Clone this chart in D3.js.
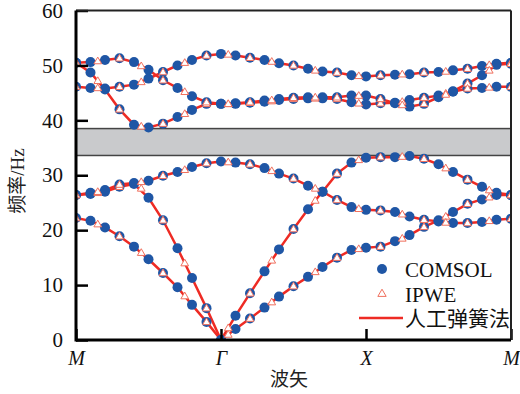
<!DOCTYPE html>
<html>
<head>
<meta charset="utf-8">
<script src="https://cdn.jsdelivr.net/npm/d3@7"></script>
<style>
  body { margin: 0; background: #fff; }
  text { font-family: "Liberation Serif", "Noto Sans CJK SC", serif; }
</style>
</head>
<body>
<div id="chart"></div>
<script>
// wave vector path M - Γ - X - M
var pathLabels = ["M", "Γ", "X", "M"];
var pathTicks = [0, 1, 2, 3];
var yTicks = [0, 10, 20, 30, 40, 50, 60];
var bandGap = [33.6, 38.5];

// sample positions along the path
var comsolK = d3.range(31).map(i => i / 10);
var ipweK = d3.range(21).map(i => i * 0.15);

// COMSOL frequencies (Hz), one array per band
var comsol1 = [22.2, 21.7, 20.5, 18.9, 17.0, 14.7, 12.2, 9.6, 6.4, 3.3, 0,
    2.0, 3.9, 5.9, 7.9, 9.8, 11.5, 13.3, 15.0, 16.4, 16.8,
    17.0, 18.0, 19.1, 20.6, 21.8, 23.3, 24.8, 25.6, 26.4, 26.4];
var comsol2 = [26.4, 26.6, 27.0, 27.9, 28.4, 25.9, 21.8, 16.7, 11.3, 5.8, 0,
    4.4, 8.5, 12.5, 16.5, 20.2, 23.8, 27.0, 30.3, 32.3, 33.2,
    33.3, 33.3, 33.5, 33.0, 32.0, 30.6, 29.2, 27.9, 26.8, 26.4];
var comsol3 = [26.4, 26.8, 27.3, 28.3, 28.6, 29.0, 29.9, 30.6, 31.5, 32.2, 32.5,
    32.3, 32.0, 31.3, 30.3, 29.4, 28.1, 27.0, 25.5, 24.2, 23.7,
    23.6, 23.3, 22.5, 21.9, 21.6, 21.3, 21.3, 21.5, 21.9, 22.1];
var comsol4 = [46.1, 45.9, 45.8, 46.1, 46.5, 47.6, 48.8, 50.0, 51.0, 51.8, 52.1,
    51.8, 51.4, 51.0, 50.4, 50.0, 49.4, 48.9, 48.7, 48.2, 48.0,
    48.2, 48.3, 48.4, 48.7, 48.8, 49.1, 49.4, 49.9, 50.3, 50.5];
var comsol5 = [50.5, 48.7, 45.6, 42.0, 39.2, 38.7, 39.4, 40.6, 41.9, 43.0, 43.0,
    43.0, 43.2, 43.4, 43.7, 43.9, 44.0, 44.0, 43.9, 43.3, 42.9,
    43.1, 43.2, 43.7, 44.1, 44.5, 45.3, 46.7, 48.2, 50.1, 50.3];
var comsol6 = [50.5, 50.6, 51.0, 51.3, 50.6, 49.2, 47.3, 45.9, 44.4, 43.3, 43.0,
    43.1, 43.3, 43.6, 43.9, 44.1, 44.2, 44.2, 44.2, 44.5, 44.5,
    43.9, 43.1, 42.5, 43.0, 44.2, 45.2, 45.8, 45.9, 46.1, 46.1];

// IPWE frequencies (Hz)
var ipwe1 = [22.2, 21.1, 18.9, 15.9, 12.2, 8.0, 3.3, 1.0, 3.9, 6.9, 9.8,
    12.4, 15.0, 16.6, 17.0, 18.5, 20.6, 22.5, 24.8, 26.0, 26.4];
var ipwe2 = [26.4, 26.8, 27.9, 27.6, 21.8, 14.0, 5.8, 2.2, 8.5, 14.5, 20.2,
    25.4, 30.3, 32.8, 33.3, 33.4, 33.0, 31.3, 29.2, 27.3, 26.4];
var ipwe3 = [26.4, 27.0, 28.3, 28.8, 29.9, 31.0, 32.2, 32.4, 32.0, 30.8, 29.4,
    27.6, 25.5, 23.9, 23.6, 22.9, 21.9, 21.4, 21.3, 21.7, 22.1];
var ipwe4 = [46.1, 45.9, 46.1, 47.0, 48.8, 50.5, 51.8, 52.0, 51.4, 50.7, 50.0,
    49.1, 48.7, 48.1, 48.2, 48.4, 48.7, 48.9, 49.4, 50.1, 50.5];
var ipwe5 = [50.5, 47.2, 42.0, 38.9, 39.4, 41.2, 43.0, 43.0, 43.2, 43.5, 43.9,
    44.0, 43.9, 43.1, 43.1, 43.4, 44.1, 44.9, 46.7, 49.1, 50.3];
var ipwe6 = [50.5, 50.8, 51.3, 49.9, 47.3, 45.2, 43.3, 43.0, 43.3, 43.7, 44.1,
    44.2, 44.2, 44.5, 43.9, 42.8, 43.0, 44.7, 45.8, 46.0, 46.1];

var comsolBands = [comsol1, comsol2, comsol3, comsol4, comsol5, comsol6];
var ipweBands = [ipwe1, ipwe2, ipwe3, ipwe4, ipwe5, ipwe6];
// spring method curve runs through the same samples as COMSOL
var springBands = comsolBands;

var svgWidth = 520;
var svgHeight = 394;

var margin = {
    top: 10.5,
    right: 9,
    bottom: 54,
    left: 76
};
var chartWidth = svgWidth - margin.left - margin.right;
var chartHeight = svgHeight - margin.top - margin.bottom;

var blue = "#1f56a5";
var red = "#ee2b24";
var triRed = "#f0705e";

var svg = d3.select("#chart")
    .append("svg")
    .attr("width", svgWidth)
    .attr("height", svgHeight);

// keep the marks inside the frame
svg.append("defs").append("clipPath")
    .attr("id", "plotClip")
    .append("rect")
    .attr("width", chartWidth)
    .attr("height", chartHeight);

var chartGroup = svg.append("g")
    .attr("transform", `translate(${margin.left}, ${margin.top})`);

var xScale = d3.scaleLinear().domain([0, 3]).range([0, chartWidth]);
var yScale = d3.scaleLinear().domain([0, 60]).range([chartHeight, 0]);

var plotGroup = chartGroup.append("g").attr("clip-path", "url(#plotClip)");

// band gap
plotGroup.append("rect")
    .attr("x", xScale(0))
    .attr("y", yScale(bandGap[1]))
    .attr("width", xScale(3) - xScale(0))
    .attr("height", yScale(bandGap[0]) - yScale(bandGap[1]))
    .style("fill", "#c9cacc")
    .style("stroke", "#444")
    .style("stroke-width", 1.5);

// spring method lines
var line = d3.line()
    .x((d, i) => xScale(comsolK[i]))
    .y(d => yScale(d));

plotGroup.selectAll(".band")
    .data(springBands)
    .enter()
    .append("path")
    .attr("class", "band")
    .attr("d", line)
    .style("fill", "none")
    .style("stroke", red)
    .style("stroke-width", 2.5);

// COMSOL dots
comsolBands.forEach(function (band) {
    plotGroup.append("g").selectAll("circle")
        .data(band)
        .enter()
        .append("circle")
        .attr("cx", (d, i) => xScale(comsolK[i]))
        .attr("cy", d => yScale(d))
        .attr("r", 5)
        .style("fill", blue);
});

// IPWE triangles
var tri = d3.symbol().type(d3.symbolTriangle).size(26);
ipweBands.forEach(function (band) {
    plotGroup.append("g").selectAll("path")
        .data(band)
        .enter()
        .append("path")
        .attr("d", tri)
        .attr("transform", (d, i) => `translate(${xScale(ipweK[i])}, ${yScale(d) + 0.5})`)
        .style("fill", "white")
        .style("stroke", triRed)
        .style("stroke-width", 1);
});

// axes
var yAxis = d3.axisLeft(yScale)
    .tickValues(yTicks)
    .tickSizeInner(-12)
    .tickSizeOuter(0)
    .tickPadding(13);

var xAxis = d3.axisBottom(xScale)
    .tickValues(pathTicks)
    .tickFormat((d, i) => pathLabels[i])
    .tickSizeInner(-11)
    .tickSizeOuter(0)
    .tickPadding(11);

var yg = chartGroup.append("g").call(yAxis);
yg.select(".domain").remove();
yg.selectAll("line").attr("stroke", "#000").attr("stroke-width", 2.5);
yg.selectAll("text")
    .style("font-size", "21px")
    .attr("fill", "#111")
    .style("font-family", "Liberation Serif");

var xg = chartGroup.append("g")
    .attr("transform", `translate(0, ${chartHeight})`)
    .call(xAxis);
xg.select(".domain").remove();
xg.selectAll("line").attr("stroke", "#000").attr("stroke-width", 2.5);
xg.selectAll("text")
    .style("font-size", "20px")
    .style("font-style", "italic")
    .attr("fill", "#111")
    .style("font-family", "Liberation Serif");

// frame
chartGroup.append("line")
    .attr("x1", 0).attr("x2", chartWidth)
    .attr("y1", 0).attr("y2", 0)
    .style("stroke", "#222").style("stroke-width", 2);
chartGroup.append("line")
    .attr("x1", chartWidth).attr("x2", chartWidth)
    .attr("y1", 0).attr("y2", chartHeight)
    .style("stroke", "#222").style("stroke-width", 2);
chartGroup.append("line")
    .attr("x1", 0).attr("x2", 0)
    .attr("y1", 0).attr("y2", chartHeight + 1.5)
    .style("stroke", "#000").style("stroke-width", 3);
chartGroup.append("line")
    .attr("x1", 0).attr("x2", chartWidth)
    .attr("y1", chartHeight).attr("y2", chartHeight)
    .style("stroke", "#000").style("stroke-width", 3);

// axis titles
svg.append("text")
    .attr("transform", "translate(24, 181) rotate(-90)")
    .attr("text-anchor", "middle")
    .style("font-size", "19px")
    .attr("fill", "#222")
    .text("频率/Hz");

svg.append("text")
    .attr("x", 289)
    .attr("y", 386)
    .attr("text-anchor", "middle")
    .style("font-size", "19px")
    .attr("fill", "#222")
    .text("波矢");

// legend
var legend = svg.append("g").attr("transform", "translate(382, 269)");

legend.append("circle")
    .attr("cx", 0).attr("cy", 0).attr("r", 5)
    .style("fill", blue);
legend.append("text")
    .attr("x", 23).attr("y", 8)
    .style("font-size", "21px")
    .attr("fill", "#111")
    .text("COMSOL");

legend.append("path")
    .attr("d", d3.symbol().type(d3.symbolTriangle).size(30))
    .attr("transform", "translate(0, 25)")
    .style("fill", "white")
    .style("stroke", triRed)
    .style("stroke-width", 1);
legend.append("text")
    .attr("x", 23).attr("y", 33)
    .style("font-size", "21px")
    .attr("fill", "#111")
    .text("IPWE");

legend.append("line")
    .attr("x1", -23).attr("x2", 21)
    .attr("y1", 49).attr("y2", 49)
    .style("stroke", red)
    .style("stroke-width", 2.5);
legend.append("text")
    .attr("x", 23).attr("y", 57)
    .style("font-size", "21px")
    .attr("fill", "#111")
    .text("人工弹簧法");
</script>
</body>
</html>
